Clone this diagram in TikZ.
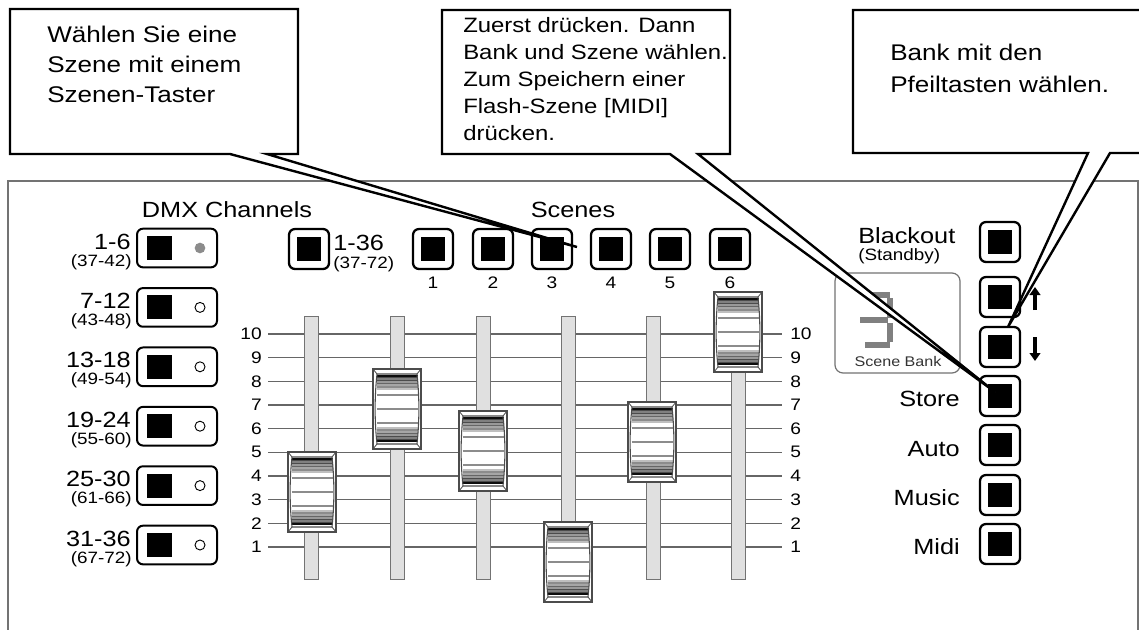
\documentclass[tikz,border=0pt]{standalone}
\usepackage{fontspec}
\setmainfont{Liberation Sans}[FakeStretch=1.15]
\usetikzlibrary{arrows.meta}
\begin{document}
\begin{tikzpicture}[x=0.75pt,y=-0.75pt,
 txt/.style={inner sep=0pt, text=black},
 big/.style={txt, font=\fontsize{16.5pt}{18pt}\selectfont},
 small/.style={txt, font=\fontsize{12.3pt}{14pt}\selectfont},
 num/.style={txt, font=\fontsize{12.5pt}{14pt}\selectfont},
 callA/.style={txt, font=\fontsize{17pt}{20pt}\selectfont, anchor=base west},
 callB/.style={txt, font=\fontsize{15.6pt}{18pt}\selectfont, anchor=base west},
 bubble/.style={draw=black, fill=white, line width=1.8pt, line join=miter},
 panel/.style={draw=black!55, line width=1.1pt},
 dmxbtn/.style={draw, line width=1.5pt, rounded corners=4.5pt, minimum width=60pt, minimum height=29pt, inner sep=0pt},
 keybtn/.style={draw, line width=1.7pt, rounded corners=4.5pt, minimum width=30pt, minimum height=30pt, inner sep=0pt},
 blk/.style={fill=black, minimum width=18.5pt, minimum height=18pt, inner sep=0pt},
 led/.style={circle, draw=black, line width=0.7pt, fill=white, minimum size=7.5pt, inner sep=0pt},
 ledon/.style={circle, fill=black!45, minimum size=8pt, inner sep=0pt},
 scaleline/.style={draw=black!60, line width=0.9pt},
 track/.style={draw=black!55, fill=black!12, line width=0.7pt},
 seg/.style={draw=black!50, line width=4.5pt},
 arr/.style={line width=2.6pt, -{Triangle[length=6pt,width=8pt]}},
 knob/.pic={
   \fill[white] (-24,-40) rectangle (24,40);
   \foreach \o/\g in {-33/95,-31.5/70,-30/50,-28.5/70,-27/40,-25.5/60,-24/35,-22/45,-20/25,-14/45,0/45,14/45,19/25,21/45,23/35,24.5/60,26/40,27.5/70,29/50,30.5/70,32/95}
     \draw[black!\g, line width=0.8pt] (-20.5,\o) -- (20.5,\o);
   \draw[black!70, line width=0.8pt] (-20,-35) .. controls (-22.5,-12) and (-22.5,12) .. (-20,35) -- (20,35) .. controls (22.5,12) and (22.5,-12) .. (20,-35) -- cycle;
   \draw[black!70, line width=0.8pt] (-24,-40) rectangle (24,40);
   \draw[black!70, line width=0.6pt] (-24,-40) -- (-20,-35) (24,-40) -- (20,-35) (-24,40) -- (-20,35) (24,40) -- (20,35);
 }
]
\useasboundingbox (0,0) rectangle (1139,629);
\fill[white] (0,0) rectangle (1139,629);

% panel
\draw[panel] (8,640) -- (8,181) -- (1138,181) -- (1138,640);

% DMX channels
\node[big, anchor=base] (dmxt) at (227,217) {DMX Channels};
\foreach \i/\a/\b in {0/1-6/{(37-42)},1/7-12/{(43-48)},2/13-18/{(49-54)},3/19-24/{(55-60)},4/25-30/{(61-66)},5/31-36/{(67-72)}} {
  \pgfmathsetmacro\cy{248+59.4*\i}
  \node[big, anchor=base east] (dl\i) at (131,\cy+1) {\a};
  \node[small, anchor=base east] (ds\i) at (132,\cy+18) {\b};
  \node[dmxbtn] (db\i) at (177,\cy) {};
  \node[blk] (dk\i) at (159.5,\cy) {};
}
\node[ledon] (led0) at (200,248) {};
\foreach \i in {1,...,5} {
  \pgfmathsetmacro\cy{248+59.4*\i}
  \node[led] (led\i) at (200,\cy) {};
}

% scenes
\node[big, anchor=base] (scl) at (573,217) {Scenes};
\node[keybtn] (ms) at (309,249) {};
\node[blk] (msk) at (309,249) {};
\node[big, anchor=base west] (msl) at (333,250) {1-36};
\node[small, anchor=base west] (mss) at (333,268) {(37-72)};
\foreach \j/\sx in {1/433,2/493,3/552,4/611,5/670,6/730} {
  \node[keybtn] (sc\j) at (\sx,249) {};
  \node[blk] (sck\j) at (\sx,249) {};
  \node[num, anchor=base] (scn\j) at (\sx,288) {\j};
}

% fader scale
\foreach \k in {1,...,10} {
  \pgfmathsetmacro\ly{547-(\k-1)*23.67}
  \draw[scaleline] (268,\ly) -- (782,\ly);
  \node[num, anchor=east] (nl\k) at (262,\ly) {\k};
  \node[num, anchor=west] (nr\k) at (790,\ly) {\k};
}
\foreach \tx in {311,397,483,568,653,738}
  \draw[track] (\tx-7,316) rectangle (\tx+7,579);
\pic at (312,492) {knob};
\pic at (397,409) {knob};
\pic at (483,451) {knob};
\pic at (568,562) {knob};
\pic at (652,442) {knob};
\pic at (738,332) {knob};

% right side
\foreach \n/\yy in {bo/242,up/297,dn/347,st/396,au/445,mu/495,mi/544} {
  \node[keybtn] (\n) at (1000,\yy) {};
  \node[blk] (\n-k) at (1000,\yy) {};
}
\node[big, anchor=base west] (bol) at (858,243) {Blackout};
\node[small, anchor=base west] (sbl) at (858,260) {(Standby)};
\node[big, anchor=base east] (stl) at (960,406) {Store};
\node[big, anchor=base east] (aul) at (960,456) {Auto};
\node[big, anchor=base east] (mul) at (960,505) {Music};
\node[big, anchor=base east] (mil) at (960,554) {Midi};
\draw[arr] (1035,310) -- (1035,287);
\draw[arr] (1035,337) -- (1035,361);

% scene bank display
\draw[draw=black!55, line width=0.9pt, rounded corners=6pt] (835,273) rectangle (960,373);
\draw[seg] (865,295) -- (890,295);
\draw[seg] (890,298) -- (890,318);
\draw[seg] (860,320) -- (888,320);
\draw[seg] (890,323) -- (890,342);
\draw[seg] (865,345) -- (890,345);
\node[txt, font=\fontsize{10.5pt}{12pt}\selectfont, text=black!80, anchor=base] (sbk) at (898,366) {Scene Bank};

% callouts
\coordinate (t1) at (577,247);
\coordinate (t2) at (995,392);
\coordinate (t3) at (1008,327);
\draw[bubble] (230,154) -- (10,154) -- (10,9) -- (298,9) -- (298,154) -- (267,154) -- (t1) -- cycle;
\draw[bubble] (670,154) -- (442,154) -- (442,10) -- (730,10) -- (730,154) -- (698,154) -- (t2) -- cycle;
\draw[bubble] (1088,153) -- (853,153) -- (853,10) -- (1150,10) -- (1150,153) -- (1110,153) -- (t3) -- cycle;

\node[callA] (c1a) at (47,42) {Wählen Sie eine};
\node[callA] (c1b) at (47,72) {Szene mit einem};
\node[callA] (c1c) at (47,102) {Szenen-Taster};

\node[callB] (c2a) at (463,32) {Zuerst drücken. Dann};
\node[callB] (c2b) at (463,59) {Bank und Szene wählen.};
\node[callB] (c2c) at (463,86) {Zum Speichern einer};
\node[callB] (c2d) at (463,113) {Flash-Szene [MIDI]};
\node[callB] (c2e) at (463,140) {drücken.};

\node[callA] (c3a) at (890,60) {Bank mit den};
\node[callA] (c3b) at (890,92) {Pfeiltasten wählen.};
\end{tikzpicture}
\end{document}
